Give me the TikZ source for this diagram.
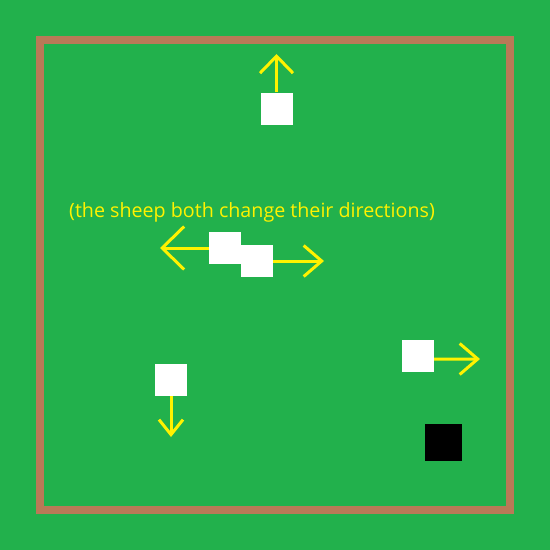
\documentclass[tikz,border=0pt]{standalone}
\usepackage{fontspec}
\setsansfont{Open Sans}
\usetikzlibrary{arrows.meta}
\definecolor{grass}{HTML}{22B14C}
\definecolor{fence}{HTML}{B97A57}
\definecolor{sunny}{HTML}{FFF200}

\begin{document}
\begin{tikzpicture}[x=0.05cm, y=-0.05cm,
    sheep/.style={fill=white, inner sep=0pt, minimum size=1.6cm},
    dog/.style={fill=black, inner sep=0pt, minimum size=1.85cm},
    move/.style={draw=sunny, line width=0.15cm}]

        % Pastwisko
        \fill[grass] (0,0) rectangle (550,550);
        \draw[fence, line width=0.4cm] (40,40) rectangle (510,510);

        % Owce
        \node[sheep] (top) at (276.5,108.5) {};
        \node[sheep] (pairl) at (225,248) {};
        \node[sheep] (pairr) at (257,261) {};
        \node[sheep] (east) at (418,356) {};
        \node[sheep] (south) at (171,380) {};
        \node[dog] (dog) at (443.5,442.5) {};

        \coordinate (topend) at (276.5,54);
        \coordinate (pairlend) at (160,248);
        \coordinate (pairrend) at (324,261);
        \coordinate (eastend) at (480,359);
        \coordinate (southend) at (171,437);

        \draw[move, -{Straight Barb[length=0.85cm, width=1.65cm]}] (top.north) -- (topend);
        \draw[move, -{Straight Barb[length=1.1cm, width=2.15cm]}] (pairl.west) -- (pairlend);
        \draw[move, -{Straight Barb[length=0.9cm, width=1.55cm]}] (pairr.east) -- (pairrend);
        \draw[move, -{Straight Barb[length=0.9cm, width=1.55cm]}] ([yshift=-0.15cm]east.east) -- (eastend);
        \draw[move, -{Straight Barb[length=0.75cm, width=1.2cm]}] (south.south) -- (southend);

        \node[text=sunny, font=\sffamily\fontsize{28}{28}\selectfont] (note) at (252,212) {(the sheep both change their directions)};

\end{tikzpicture}
\end{document}
